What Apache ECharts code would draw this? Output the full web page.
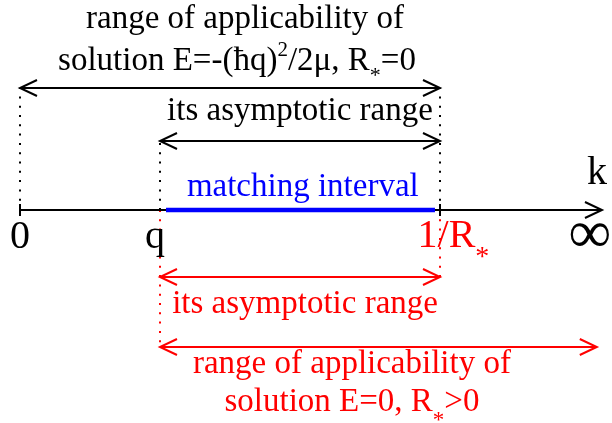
<!DOCTYPE html>
<html><head><meta charset="utf-8">
<script src="https://cdn.jsdelivr.net/npm/echarts@6/dist/echarts.min.js"></script>
<style>html,body{margin:0;padding:0;background:#fff}#c{width:612px;height:423px}</style>
</head><body><div id="c"></div>
<script>
// ---- data (k in units of q; vertical levels in arbitrary units, axis = 0) ----
const axisEndK = 4.157;
const axisTickK = [0, 3];                 // ticks at 0 and 1/R*
const matchFrom = [1.043];                // matching interval (blue)
const matchTo = [2.964];
// range arrows
const arrowFrom  = [0, 0, 1, 1, 1];
const arrowTo    = [axisEndK, 3, 3, 3, 4.12];
const arrowLevel = [0, 12.2, 6.9, -6.7, -13.7];
const arrowHeadStart = [0, 1, 1, 1, 1];
const arrowHeadEnd   = [1, 1, 1, 1, 1];
const arrowColor = ['#000000', '#000000', '#000000', '#ff0000', '#ff0000'];
// dotted guide lines
const guideK     = [0, 1, 3, 1, 3];
const guideFrom  = [0, 0, 0, 0, 0];
const guideTo    = [12.2, 6.9, 12.2, -13.7, -6.7];
const guideColor = ['#000000', '#000000', '#000000', '#ff0000', '#ff0000'];
// texts
const textContent = [
  '{n|range of applicability of}\n{n|solution E=-(ħq)}{sup|2}{n|/2μ, R}{sub|*}{nr|=0}',
  '{n|its asymptotic range}',
  '{n|matching interval}',
  '{n|k}',
  '{n|0}',
  '{n|q}',
  '{n|1/R}{sub|*}',
  '{n|∞}',
  '{n|its asymptotic range}',
  '{n|range of applicability of}\n{n|solution E=0, R}{sub|*}{n|>0}'
];
const textK     = [1.607, 2.0, 2.02, 4.121, 0, 0.964, 2.836, 4.07, 2.036, 2.371];
const textLevel = [17.0, 9.9, 2.3, 3.65, -2.75, -2.75, -2.65, -2.65, -9.4, -17.3];
const textColor = ['#000000', '#000000', '#0000ff', '#000000', '#000000', '#000000', '#ff0000', '#000000', '#ff0000', '#ff0000'];
const textSize  = [33, 33, 33, 40, 40, 40, 40, 60, 33, 33];
const textLineH = [42, 42, 42, 48, 48, 48, 48, 70, 42, 38];
const textSubSize  = [22, 22, 22, 22, 22, 22, 28, 22, 22, 23];
const textSubShift = [73, 73, 73, 73, 73, 73, 90, 73, 73, 76];
const textLeftAligned = [false, false, false, false, false, false, true, false, false, false];

const FONT = '"Liberation Serif", "Times New Roman", serif';

const chart = echarts.init(document.getElementById('c'), null, {renderer: 'canvas'});

const textData = textContent.map((t, i) => ({
  value: [textK[i], textLevel[i]],
  label: {
    show: true,
    position: textLeftAligned[i] ? 'right' : 'inside',
    distance: 0,
    formatter: t,
    color: textColor[i],
    textBorderWidth: 0,
    fontFamily: FONT,
    fontSize: textSize[i],
    lineHeight: textLineH[i],
    rich: {
      n: {fontFamily: FONT, fontSize: textSize[i], lineHeight: textLineH[i], color: textColor[i]},
      nr: {fontFamily: FONT, fontSize: textSize[i], lineHeight: textLineH[i], color: textColor[i], padding: [0, 16, 0, 0]},
      sup: {fontFamily: FONT, fontSize: 21, lineHeight: 20, verticalAlign: 'top', color: textColor[i]},
      sub: {fontFamily: FONT, fontSize: textSubSize[i], lineHeight: 10, height: textSubShift[i], verticalAlign: 'top', color: textColor[i]}
    }
  }
}));

const option = {
  animation: false,
  backgroundColor: '#ffffff',
  grid: {left: 20, right: 4, top: 0, bottom: 0},
  xAxis: {type: 'value', min: 0, max: 4.2, show: false},
  yAxis: {type: 'value', min: -21.3, max: 21, show: false},
  series: [
    { // dotted guides
      type: 'custom', clip: false, silent: true, z: 1,
      data: guideK.map((k, i) => [k, guideFrom[i], guideTo[i]]),
      encode: {x: 0, y: [1, 2]},
      renderItem: (params, api) => {
        const a = api.coord([api.value(0), api.value(1)]);
        const b = api.coord([api.value(0), api.value(2)]);
        return {type: 'line', shape: {x1: a[0], y1: a[1], x2: b[0], y2: b[1]},
          style: {stroke: guideColor[params.dataIndex], lineWidth: 2, lineDash: [2, 7.3], fill: null}};
      }
    },
    { // arrows (incl. k axis)
      type: 'custom', clip: false, silent: true, z: 2,
      data: arrowFrom.map((a, i) => [a, arrowTo[i], arrowLevel[i], arrowHeadStart[i], arrowHeadEnd[i]]),
      encode: {x: [0, 1], y: 2},
      renderItem: (params, api) => {
        const p1 = api.coord([api.value(0), api.value(2)]);
        const p2 = api.coord([api.value(1), api.value(2)]);
        const st = {stroke: arrowColor[params.dataIndex], lineWidth: 2, fill: null};
        const L = 17, H = 8;
        const ch = [{type: 'line', shape: {x1: p1[0], y1: p1[1], x2: p2[0], y2: p2[1]}, style: st}];
        if (api.value(3)) ch.push({type: 'polyline', shape: {points: [[p1[0] + L, p1[1] - H], [p1[0], p1[1]], [p1[0] + L, p1[1] + H]]}, style: st});
        if (api.value(4)) ch.push({type: 'polyline', shape: {points: [[p2[0] - L, p2[1] - H], [p2[0], p2[1]], [p2[0] - L, p2[1] + H]]}, style: st});
        return {type: 'group', children: ch};
      }
    },
    { // axis ticks
      type: 'custom', clip: false, silent: true, z: 3,
      data: axisTickK.map(k => [k, 0]),
      encode: {x: 0, y: 1},
      renderItem: (params, api) => {
        const p = api.coord([api.value(0), api.value(1)]);
        return {type: 'line', shape: {x1: p[0], y1: p[1] - 6, x2: p[0], y2: p[1] + 6},
          style: {stroke: '#000000', lineWidth: 2}};
      }
    },
    { // matching interval
      type: 'line', silent: true, z: 4, symbol: 'none',
      data: [[matchFrom[0], 0], [matchTo[0], 0]],
      lineStyle: {color: '#0000ff', width: 4.5}
    },
    { // texts
      type: 'scatter', silent: true, z: 5,
      symbolSize: 1, itemStyle: {color: 'rgba(0,0,0,0)', opacity: 1},
      data: textData
    }
  ]
};
chart.setOption(option);
</script>
</body></html>
